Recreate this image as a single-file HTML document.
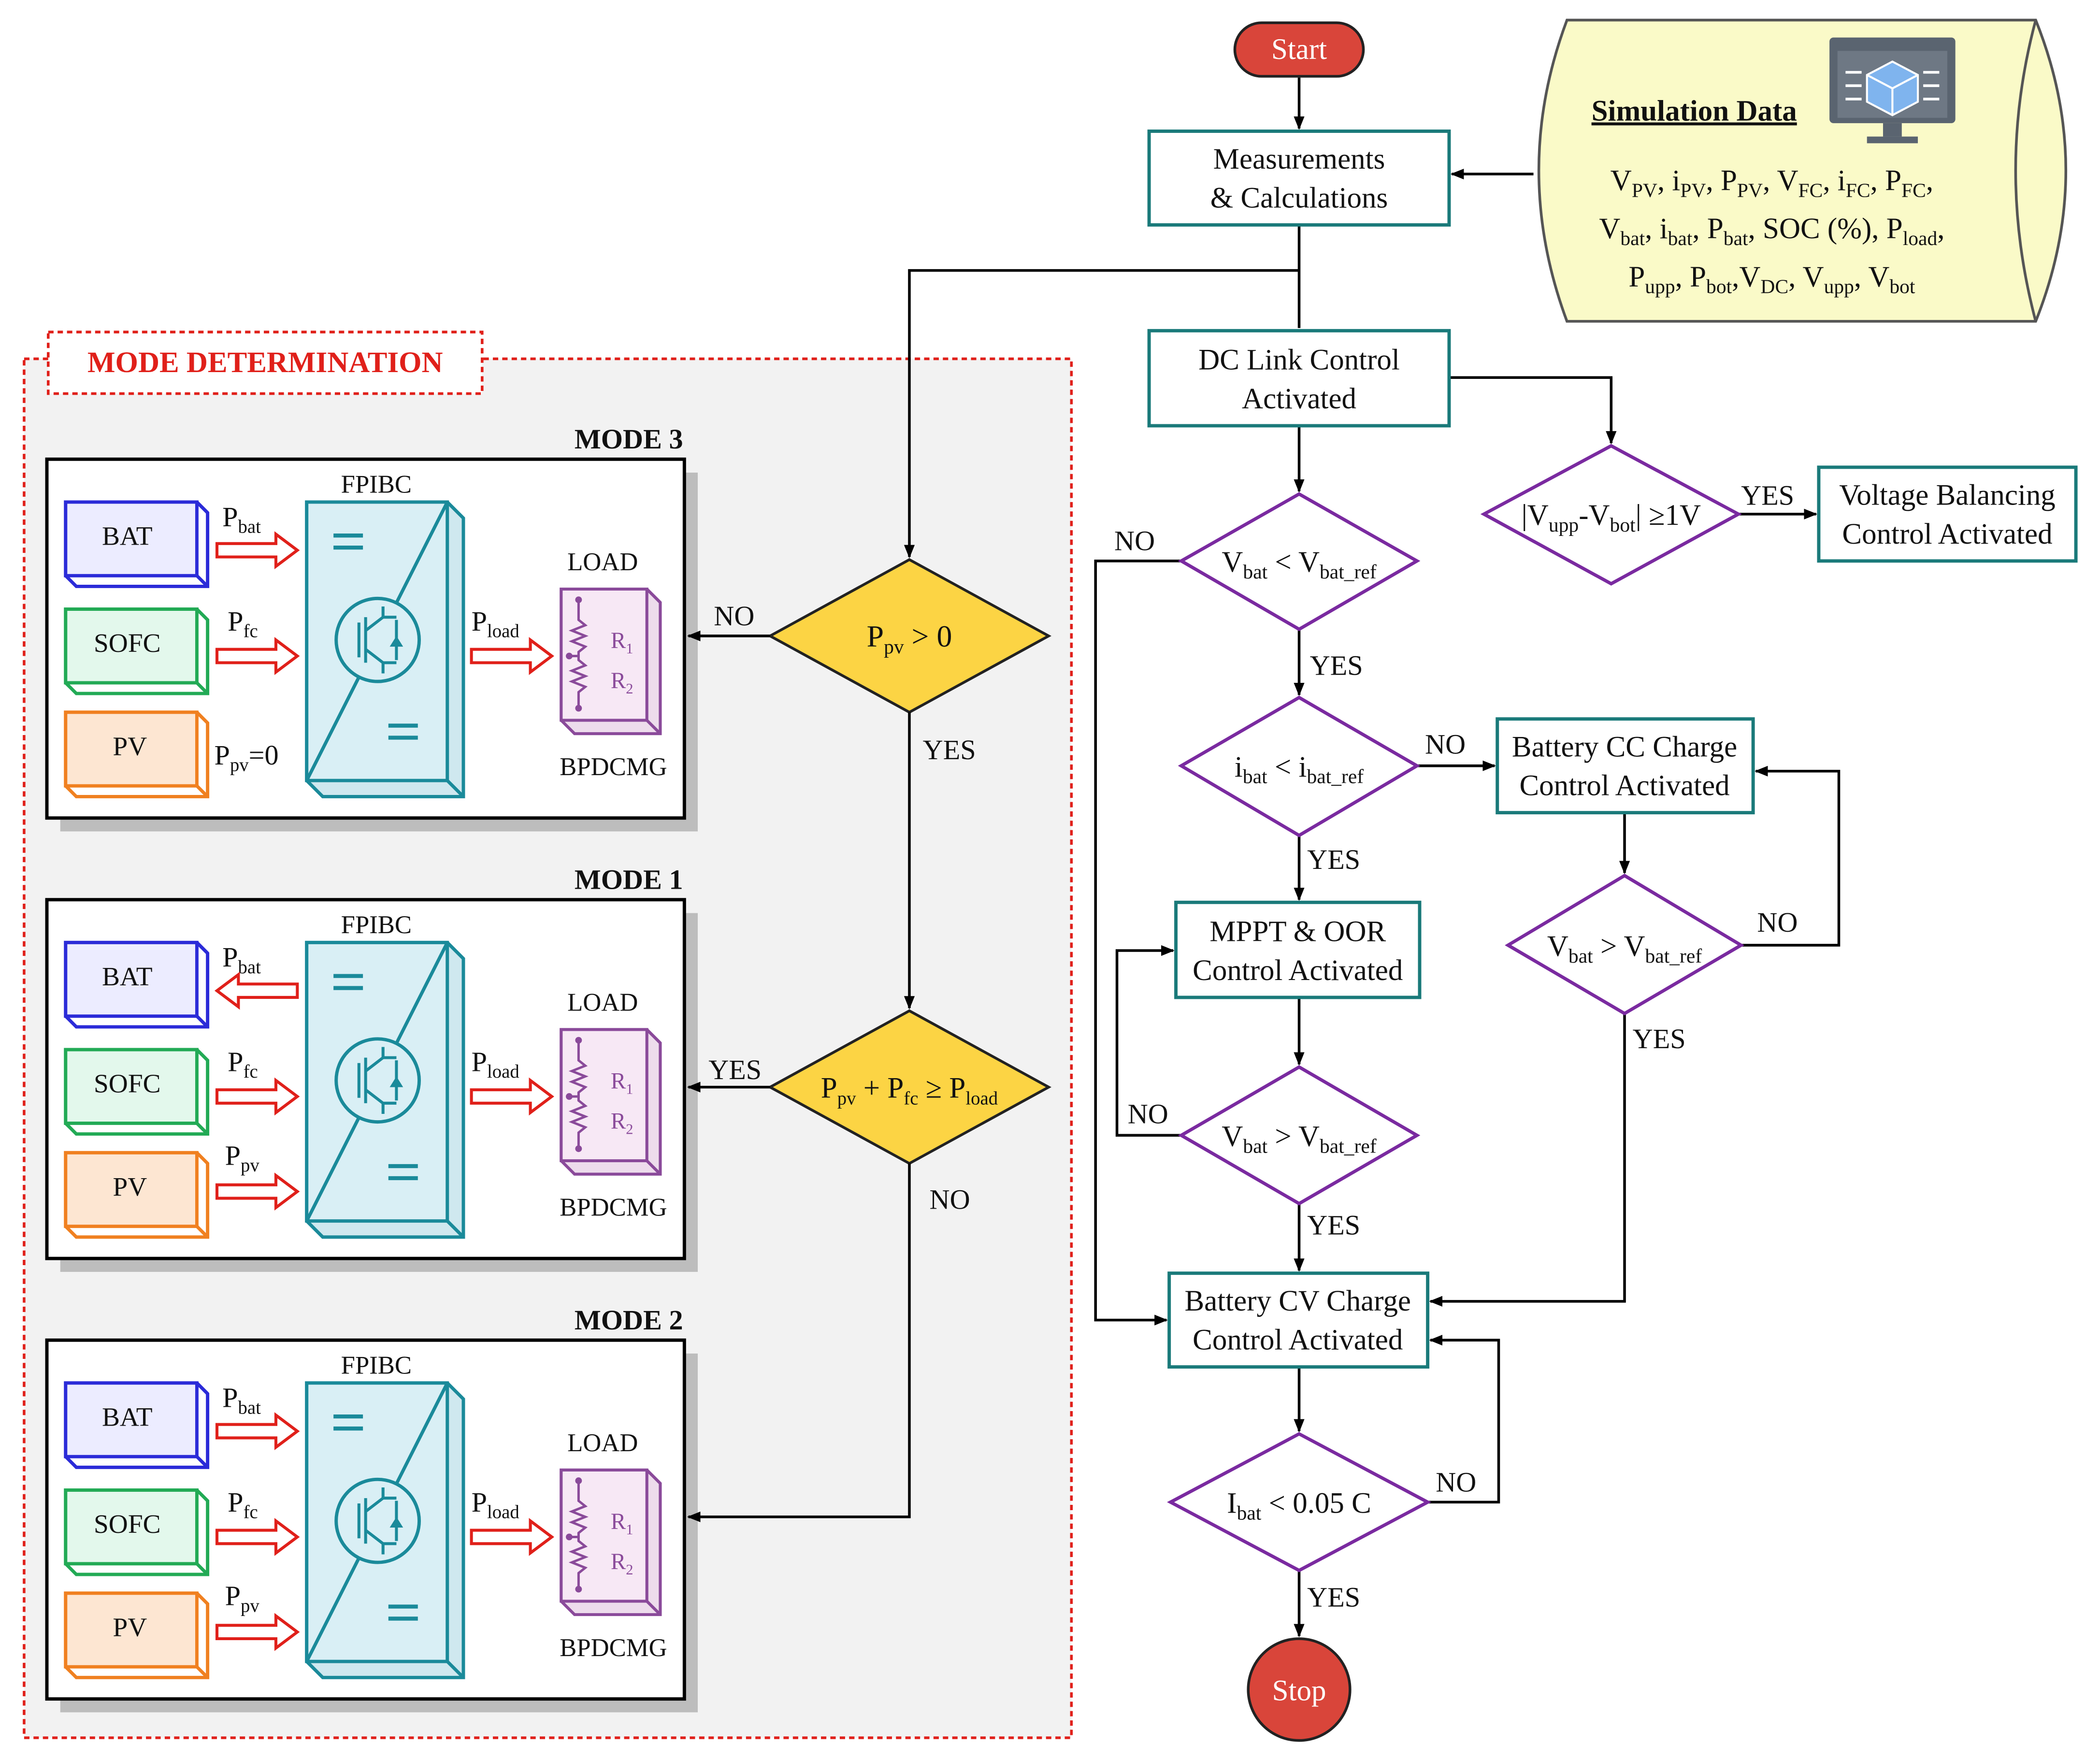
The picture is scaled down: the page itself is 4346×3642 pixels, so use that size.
<!DOCTYPE html>
<html><head><meta charset="utf-8"><style>
html,body{margin:0;padding:0;background:#fff}
svg{display:block}
text{font-family:"Liberation Serif",serif;fill:#111}
</style></head><body>
<svg width="4346" height="3642" viewBox="0 0 1568 1314.6" preserveAspectRatio="none" xmlns="http://www.w3.org/2000/svg">
<defs>
<marker id="ah" markerWidth="10" markerHeight="10" refX="9" refY="5" orient="auto" markerUnits="userSpaceOnUse"><path d="M0,1 L10,5 L0,9 Z" fill="#000"/></marker>
<path id="harr" d="M0,-5 H44 V-12 L60,0 L44,12 V5 H0 Z" fill="#fff" stroke="#e0201a" stroke-width="2.2"/>
<g id="panel">
 <rect x="45" y="10" width="476" height="268" fill="#bdbdbd"/>
 <rect x="35" y="0" width="476" height="268" fill="#fff" stroke="#000" stroke-width="2.5"/>
 <path d="M49,32 H147 L155,40 V95 H57 L49,87 Z" fill="#fff" stroke="#2b2bd8" stroke-width="2.5"/>
 <rect x="49" y="32" width="98" height="55" fill="#ececff" stroke="#2b2bd8" stroke-width="2.5"/>
 <path d="M147,87 L155,95 M147,32 L155,40" stroke="#2b2bd8" stroke-width="2.5"/>
 <text x="95" y="64" font-size="20" text-anchor="middle">BAT</text>
 <path d="M49,112 H147 L155,120 V175 H57 L49,167 Z" fill="#fff" stroke="#22aa55" stroke-width="2.5"/>
 <rect x="49" y="112" width="98" height="55" fill="#e3f8ec" stroke="#22aa55" stroke-width="2.5"/>
 <path d="M147,167 L155,175" stroke="#22aa55" stroke-width="2.5"/>
 <text x="95" y="144" font-size="20" text-anchor="middle">SOFC</text>
 <path d="M49,189 H147 L155,197 V252 H57 L49,244 Z" fill="#fff" stroke="#f08020" stroke-width="2.5"/>
 <rect x="49" y="189" width="98" height="55" fill="#fde6d2" stroke="#f08020" stroke-width="2.5"/>
 <path d="M147,244 L155,252" stroke="#f08020" stroke-width="2.5"/>
 <text x="97" y="221" font-size="20" text-anchor="middle">PV</text>
 <text x="281" y="25" font-size="19" text-anchor="middle">FPIBC</text>
 <path d="M229,32 H334 L346,44 V252 H241 L229,240 Z" fill="#cfe8ef" stroke="#1a8a9a" stroke-width="2.5"/>
 <rect x="229" y="32" width="105" height="208" fill="#d9eff5" stroke="#1a8a9a" stroke-width="2.5"/>
 <path d="M334,240 L346,252 M229,240 L334,32" stroke="#1a8a9a" stroke-width="2.5"/>
 <path d="M249,57 H271 M249,66 H271 M290,199 H312 M290,208 H312" stroke="#1a8a9a" stroke-width="3"/>
 <circle cx="282" cy="135" r="31" fill="#d9eff5" stroke="#1a8a9a" stroke-width="2.5"/>
 <path d="M268,122 V148 M273,118 V152 M273,128 L286,118 V110 M273,142 L286,152 V160 M296,120 V150 M286,118 H296 M286,152 H296" stroke="#1a8a9a" stroke-width="2.2" fill="none"/>
 <path d="M291,140 L301,140 L296,132 Z" fill="#1a8a9a"/>
 <text x="450" y="83" font-size="19" text-anchor="middle">LOAD</text>
 <path d="M419,97 H483 L493,107 V205 H429 L419,195 Z" fill="#eddcec" stroke="#8a4a9a" stroke-width="2.2"/>
 <rect x="419" y="97" width="64" height="98" fill="#f7e8f5" stroke="#8a4a9a" stroke-width="2.2"/>
 <path d="M483,195 L493,205 M483,97 L493,107" stroke="#8a4a9a" stroke-width="2.2"/>
 <path d="M432,105 V120 L437,124 L427,128 L437,132 L427,136 L437,140 L432,144 V150 L437,154 L427,158 L437,162 L427,166 L437,170 L432,174 V186 M425,147 H432" stroke="#8a4a9a" stroke-width="1.8" fill="none"/>
 <circle cx="432" cy="105" r="2.5" fill="#8a4a9a"/><circle cx="432" cy="186" r="2.5" fill="#8a4a9a"/><circle cx="425" cy="147" r="2.5" fill="#8a4a9a"/>
 <text x="456" y="141" font-size="17" style="fill:#8a4a9a">R<tspan font-size="11" dy="4">1</tspan></text>
 <text x="456" y="171" font-size="17" style="fill:#8a4a9a">R<tspan font-size="11" dy="4">2</tspan></text>
 <text x="458" y="236" font-size="19" text-anchor="middle">BPDCMG</text>
 <use href="#harr" x="352" y="147"/>
 <text x="352" y="128" font-size="21">P<tspan font-size="14" dy="5">load</tspan></text>
 <text x="166" y="50" font-size="21">P<tspan font-size="14" dy="5">bat</tspan></text>
 <text x="170" y="128" font-size="21">P<tspan font-size="14" dy="5">fc</tspan></text>
 <use href="#harr" x="162" y="147"/>
</g>
</defs>

<rect x="18" y="268" width="782" height="1030" fill="#f2f2f2" stroke="#e0201a" stroke-width="2" stroke-dasharray="4,3"/>
<rect x="36" y="248" width="324" height="46" fill="#fff" stroke="#e0201a" stroke-width="2" stroke-dasharray="4,3"/>
<text x="198" y="278" font-size="22" font-weight="bold" text-anchor="middle" style="fill:#e0201a">MODE DETERMINATION</text>

<g transform="translate(0,343)"><use href="#panel"/>
 <use href="#harr" x="162" y="68"/>
 <text x="160" y="228" font-size="21">P<tspan font-size="14" dy="5">pv</tspan><tspan dy="-5">=0</tspan></text>
</g>
<text x="510" y="335" font-size="21" font-weight="bold" text-anchor="end">MODE 3</text>
<g transform="translate(0,672)"><use href="#panel"/>
 <use href="#harr" transform="translate(222,68) scale(-1,1)"/>
 <use href="#harr" x="162" y="218"/>
 <text x="168" y="198" font-size="21">P<tspan font-size="14" dy="5">pv</tspan></text>
</g>
<text x="510" y="664" font-size="21" font-weight="bold" text-anchor="end">MODE 1</text>
<g transform="translate(0,1001)"><use href="#panel"/>
 <use href="#harr" x="162" y="68"/>
 <use href="#harr" x="162" y="218"/>
 <text x="168" y="198" font-size="21">P<tspan font-size="14" dy="5">pv</tspan></text>
</g>
<text x="510" y="993" font-size="21" font-weight="bold" text-anchor="end">MODE 2</text>

<path d="M679,418 L783,475 L679,532 L575,475 Z" fill="#fcd444" stroke="#222" stroke-width="2"/>
<text x="679" y="483" font-size="23" text-anchor="middle">P<tspan font-size="15" dy="5">pv</tspan><tspan dy="-5"> &gt; 0</tspan></text>
<path d="M679,755 L783,812 L679,869 L575,812 Z" fill="#fcd444" stroke="#222" stroke-width="2"/>
<text x="679" y="820" font-size="22" text-anchor="middle">P<tspan font-size="14" dy="5">pv</tspan><tspan dy="-5"> + P</tspan><tspan font-size="14" dy="5">fc</tspan><tspan dy="-5"> ≥ P</tspan><tspan font-size="14" dy="5">load</tspan></text>

<g stroke="#000" stroke-width="2" fill="none">
 <path d="M970,58 V96" marker-end="url(#ah)"/>
 <path d="M1145,130 H1084" marker-end="url(#ah)"/>
 <path d="M970,168 V245"/>
 <path d="M970,202 H679 V416" marker-end="url(#ah)"/>
 <path d="M575,475 H514" marker-end="url(#ah)"/>
 <path d="M679,532 V753" marker-end="url(#ah)"/>
 <path d="M575,812 H514" marker-end="url(#ah)"/>
 <path d="M679,869 V1133 H514" marker-end="url(#ah)"/>
 <path d="M970,318 V367" marker-end="url(#ah)"/>
 <path d="M1082,282 H1203 V331" marker-end="url(#ah)"/>
 <path d="M1298,384 H1356" marker-end="url(#ah)"/>
 <path d="M882,419 H818 V986 H871" marker-end="url(#ah)"/>
 <path d="M970,470 V519" marker-end="url(#ah)"/>
 <path d="M1058,572 H1116" marker-end="url(#ah)"/>
 <path d="M970,624 V672" marker-end="url(#ah)"/>
 <path d="M1213,607 V652" marker-end="url(#ah)"/>
 <path d="M1300,706 H1373 V576 H1311" marker-end="url(#ah)"/>
 <path d="M1213,757 V972 H1068" marker-end="url(#ah)"/>
 <path d="M970,745 V795" marker-end="url(#ah)"/>
 <path d="M882,848 H834 V710 H876" marker-end="url(#ah)"/>
 <path d="M970,899 V949" marker-end="url(#ah)"/>
 <path d="M970,1021 V1069" marker-end="url(#ah)"/>
 <path d="M1066,1122 H1119 V1001 H1068" marker-end="url(#ah)"/>
 <path d="M970,1173 V1222" marker-end="url(#ah)"/>
</g>

<rect x="922" y="17" width="96" height="40" rx="20" fill="#d9453a" stroke="#222" stroke-width="2"/>
<text x="970" y="44" font-size="22" text-anchor="middle" style="fill:#fff">Start</text>
<circle cx="970" cy="1262" r="38" fill="#d9453a" stroke="#222" stroke-width="2"/>
<text x="970" y="1270" font-size="22" text-anchor="middle" style="fill:#fff">Stop</text>

<g fill="#fff" stroke="#1a7a7a" stroke-width="2.5">
 <rect x="858" y="98" width="224" height="70"/>
 <rect x="858" y="247" width="224" height="71"/>
 <rect x="1358" y="349" width="192" height="70"/>
 <rect x="1118" y="537" width="191" height="70"/>
 <rect x="878" y="674" width="182" height="71"/>
 <rect x="873" y="951" width="193" height="70"/>
</g>
<g font-size="22" text-anchor="middle">
 <text x="970" y="126">Measurements</text><text x="970" y="155">&amp; Calculations</text>
 <text x="970" y="276">DC Link Control</text><text x="970" y="305">Activated</text>
 <text x="1454" y="377">Voltage Balancing</text><text x="1454" y="406">Control Activated</text>
 <text x="1213" y="565">Battery CC Charge</text><text x="1213" y="594">Control Activated</text>
 <text x="969" y="703">MPPT &amp; OOR</text><text x="969" y="732">Control Activated</text>
 <text x="969" y="979">Battery CV Charge</text><text x="969" y="1008">Control Activated</text>
</g>

<g fill="#fff" stroke="#7a2aa0" stroke-width="2.5">
 <path d="M1203,333 L1298,384 L1203,436 L1108,384 Z"/>
 <path d="M970,369 L1058,419 L970,470 L882,419 Z"/>
 <path d="M970,521 L1058,572 L970,624 L882,572 Z"/>
 <path d="M1213,654 L1300,706 L1213,757 L1126,706 Z"/>
 <path d="M970,797 L1058,848 L970,899 L882,848 Z"/>
 <path d="M970,1071 L1066,1122 L970,1173 L874,1122 Z"/>
</g>
<g font-size="22">
 <text x="1203" y="392" text-anchor="middle">|V<tspan font-size="15" dy="5">upp</tspan><tspan dy="-5">-V</tspan><tspan font-size="15" dy="5">bot</tspan><tspan dy="-5">| ≥1V</tspan></text>
 <text x="970" y="427" text-anchor="middle">V<tspan font-size="15" dy="5">bat</tspan><tspan dy="-5"> &lt; V</tspan><tspan font-size="15" dy="5">bat_ref</tspan></text>
 <text x="970" y="580" text-anchor="middle">i<tspan font-size="15" dy="5">bat</tspan><tspan dy="-5"> &lt; i</tspan><tspan font-size="15" dy="5">bat_ref</tspan></text>
 <text x="1213" y="714" text-anchor="middle">V<tspan font-size="15" dy="5">bat</tspan><tspan dy="-5"> &gt; V</tspan><tspan font-size="15" dy="5">bat_ref</tspan></text>
 <text x="970" y="856" text-anchor="middle">V<tspan font-size="15" dy="5">bat</tspan><tspan dy="-5"> &gt; V</tspan><tspan font-size="15" dy="5">bat_ref</tspan></text>
 <text x="970" y="1130" text-anchor="middle">I<tspan font-size="15" dy="5">bat</tspan><tspan dy="-5"> &lt; 0.05 C</tspan></text>
</g>

<g font-size="21">
 <text x="533" y="467">NO</text>
 <text x="689" y="567">YES</text>
 <text x="529" y="806">YES</text>
 <text x="694" y="903">NO</text>
 <text x="832" y="411">NO</text>
 <text x="978" y="504">YES</text>
 <text x="1064" y="563">NO</text>
 <text x="976" y="649">YES</text>
 <text x="1312" y="696">NO</text>
 <text x="1219" y="783">YES</text>
 <text x="842" y="839">NO</text>
 <text x="976" y="922">YES</text>
 <text x="1072" y="1114">NO</text>
 <text x="976" y="1200">YES</text>
 <text x="1300" y="377">YES</text>
</g>

<path d="M1170,15 L1520,15 Q1565,127 1520,240 L1170,240 Q1128,127 1170,15 Z" fill="#fafac8" stroke="#555" stroke-width="2"/>
<path d="M1520,15 Q1490,127 1520,240" fill="none" stroke="#555" stroke-width="2"/>
<g>
 <rect x="1366" y="28" width="94" height="64" rx="3" fill="#5a6470"/>
 <rect x="1372" y="38" width="82" height="50" fill="#6e7884"/>
 <rect x="1406" y="92" width="14" height="10" fill="#5a6470"/>
 <rect x="1394" y="102" width="38" height="5" fill="#5a6470"/>
 <path d="M1413,46 L1432,56 V76 L1413,86 L1394,76 V56 Z" fill="#7fb4ee" stroke="#fff" stroke-width="1.5"/>
 <path d="M1394,56 L1413,66 L1432,56 M1413,66 V86" stroke="#fff" stroke-width="1.5" fill="none"/>
 <path d="M1378,54 H1390 M1378,64 H1390 M1378,74 H1390 M1436,54 H1448 M1436,64 H1448 M1436,74 H1448" stroke="#fff" stroke-width="2"/>
</g>
<text x="1265" y="90" font-size="22" font-weight="bold" text-anchor="middle" text-decoration="underline">Simulation Data</text>
<g font-size="22" text-anchor="middle">
 <text x="1323" y="142">V<tspan font-size="15" dy="5">PV</tspan><tspan dy="-5">, i</tspan><tspan font-size="15" dy="5">PV</tspan><tspan dy="-5">, P</tspan><tspan font-size="15" dy="5">PV</tspan><tspan dy="-5">, V</tspan><tspan font-size="15" dy="5">FC</tspan><tspan dy="-5">, i</tspan><tspan font-size="15" dy="5">FC</tspan><tspan dy="-5">, P</tspan><tspan font-size="15" dy="5">FC</tspan><tspan dy="-5">,</tspan></text>
 <text x="1323" y="178">V<tspan font-size="15" dy="5">bat</tspan><tspan dy="-5">, i</tspan><tspan font-size="15" dy="5">bat</tspan><tspan dy="-5">, P</tspan><tspan font-size="15" dy="5">bat</tspan><tspan dy="-5">, SOC (%), P</tspan><tspan font-size="15" dy="5">load</tspan><tspan dy="-5">,</tspan></text>
 <text x="1323" y="214">P<tspan font-size="15" dy="5">upp</tspan><tspan dy="-5">, P</tspan><tspan font-size="15" dy="5">bot</tspan><tspan dy="-5">,V</tspan><tspan font-size="15" dy="5">DC</tspan><tspan dy="-5">, V</tspan><tspan font-size="15" dy="5">upp</tspan><tspan dy="-5">, V</tspan><tspan font-size="15" dy="5">bot</tspan></text>
</g>
</svg>
</body></html>
